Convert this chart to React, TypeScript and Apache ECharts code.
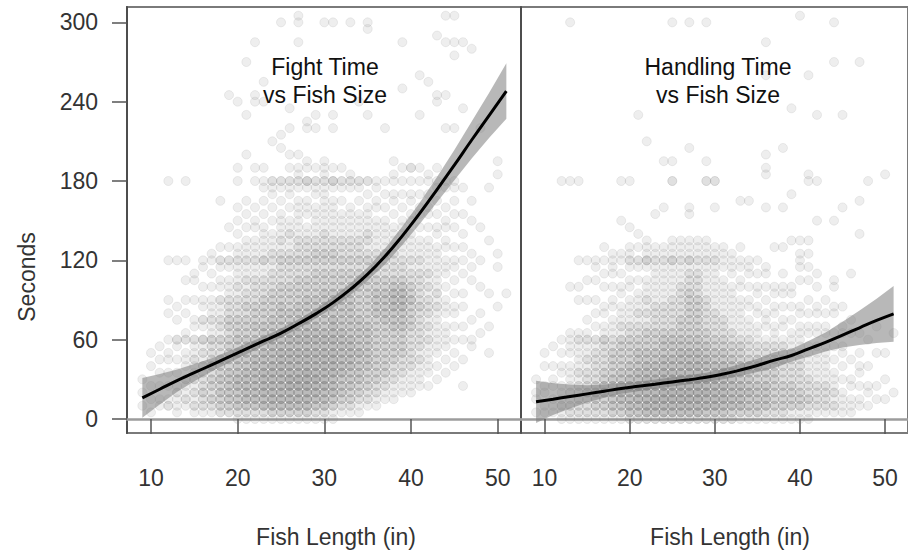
import { useEffect, useRef } from "react";
import * as echarts from "echarts";

// Axis ticks
const lengthTicks = [10, 20, 30, 40, 50];
const secondTicks = [0, 60, 120, 180, 240, 300];

// Fish lengths (in) that the count rows below belong to, one row per length
const gridLengths = [
  9, 10, 11, 12, 13, 14, 15, 16, 17, 18, 19, 20, 21, 22, 23, 24, 25, 26, 27, 28, 29, 30,
  31, 32, 33, 34, 35, 36, 37, 38, 39, 40, 41, 42, 43, 44, 45, 46, 47, 48, 49, 50, 51, 52,
];

// Number of fish at each 5 s step; each space-separated group starts a new minute
// (0-55 s, 60-115 s, 120-175 s, 180-235 s, 240-295 s, 300-305 s)
const fightCounts = [
  "001010100000",
  "010101001010",
  "001101010101",
  "002101010110 100010100000 100000000000 100000000000",
  "011121010101 200101000000 100000000000",
  "001211201110 210010100100 100000000000 100000000000",
  "012121211211 201100100110",
  "012232222121 301201101001 100000000000",
  "012323323222 311211101010 110000000000",
  "023343433322 312211201101 201000000100",
  "023444443333 323322211101 201001000000 000000000000 010000000000",
  "124445544433 433322212111 211010101000 101000000000 100000000000",
  "124555554443 433323221211 211101010100 000010000010 000000100000",
  "124555555544 434333222211 211101101000 101000000000 110000000100",
  "125566665554 444333322211 311111010101 101000000000 100100000000",
  "135666666555 544433332221 221110101011 200000100000",
  "135666666665 544444333222 321211110101 200001010000 000000000000 10",
  "135667766665 654443333222 321121101011 201010001001",
  "135667766665 654444333322 322211111101 211010000000 000000000100 11",
  "135667776665 655444433322 322211011101 301100001100",
  "124566766665 655444433332 332211111011 201000001010",
  "124556666665 654444443332 332221111111 211100000000 000000000000 10",
  "113455566665 655544443332 332211111101 301000001010 000000000000 10",
  "012344455555 554444443332 322211110101 201000000000",
  "012334445555 544444433332 322211111001 210000000000 000000000000 10",
  "011233444454 444433333332 322211110101 200000000000 100000000000",
  "001223334444 444333333322 321221111010 200000000010 000000000001 10",
  "001122333333 333344443322 221111101101 100000000000",
  "000112233333 333444443322 221111101010 100000001000",
  "000111222333 334445554322 221111010110 110100000000",
  "000011122233 334445554322 211111101010 101000000000 001000000100",
  "000011112222 223333433221 211110110110 102000000000",
  "000001111212 222223222221 211101011010 101000000010 000010000000",
  "000001011111 212122212121 111101011010 110000000000 000100000000",
  "000000101011 111112121111 111011010101 101000000000 110000000010",
  "000000010101 111011101011 101101101001 100000001000 010000000100 01",
  "000000001010 101011010101 101001010101 100000001000 000000010100 01",
  "000001000100 101001010010 101010010001 000000000001 000000000100",
  "000000000001 100100000101 010000100100 000000000000 000000001000",
  "000000000000 010010001000 100001000000 000000001000",
  "000000000010 001000010000 000100000001",
  "000000000000 000001000001 010000000000 010100000000",
  "000000000000 000000010000",
  "",
];

const handlingCounts = [
  "010110100000",
  "011011001010",
  "011101101001",
  "112111011010 100000000000 000000000000 100000000000",
  "122121111011 110000001000 000000000000 100000000000 000000000000 10",
  "122222121111 210000101000 100000000000 100000000000",
  "122232221211 210100100100 100000000000",
  "123333222221 201010100101 100000000000",
  "123344332222 311011001010 101000000000",
  "134444433332 211101101011 110000000000",
  "134555443333 312111011010 110000100000 100000000000",
  "245555544333 322111101101 211001000000 100000000000",
  "245665554443 322121110101 201010000000 000000000010",
  "256666655443 332121211101 311100000000 000000100000",
  "256766655443 332222111111 211000010000",
  "256776665544 432222111111 211000001000 000100000000",
  "256776665544 432222211111 311100000000 200100000000 000000000000 10",
  "256777665554 433322222111 211100000000",
  "256777766554 433333332221 311100011000 000001000000 000000000000 10",
  "256777666554 433333322221 211100000000",
  "246676655544 332222211111 211100000000 200100000000 000000000000 10",
  "246666655443 322221111111 211000001000 200000000000",
  "245666555443 322211111101 111000000000",
  "235555544433 221111111011 110000000000",
  "135555444333 211111101101 101000000100",
  "134454433322 211101101011 100000000100",
  "134444333322 111011011010 100000000000",
  "124444332222 101110101011 000000001000 011010000000 000010000100",
  "123333332222 111011011000 001000000000",
  "123333222222 101101011010 001000001000 000001000000",
  "113333222221 110101011000 000100000010 000000000001",
  "113332222211 111011000101 110100000000 000000000000 000000000000 01",
  "112322211111 011010100101 010100000000 110000000000 000010000000",
  "012222111111 011011001010 000000100000 100000000010",
  "012222111111 011010100000",
  "012121110101 010011001100 000000100000 000000000000 000000100000 10",
  "011110101011 011001000000 000000001000 000000000010",
  "011101100100 010100000010",
  "001101011010 010000000000 000010000100 000000000000 000000100000",
  "001011001000 100000000000 000000000000 100000000000",
  "000101000010 001000000000",
  "000100100010 000000000000 000000000000 010000000000",
  "000010000000 010000000000",
  "",
];

// Smoothed fits with their confidence bands (seconds)
const fitLength = [9, 11, 13, 15, 17, 19, 21, 23, 25, 27, 29, 31, 33, 35, 37, 39, 41, 43, 45, 47, 49, 51];
const fightFit = [16, 22.5, 29, 35, 41, 47, 53, 59, 65, 72, 79.5, 88, 98, 109.5, 123, 138.5, 155.5, 173.5, 192, 211, 229.5, 248];
const fightLower = [1, 11, 20.5, 28.5, 36, 42.5, 49, 55.5, 61.5, 68.5, 76, 84, 93.5, 104.5, 117, 131.5, 147.5, 164, 180.5, 197, 212.5, 227];
const fightUpper = [31, 34, 37.5, 41.5, 46, 51.5, 57, 62.5, 68.5, 75.5, 83, 92, 102.5, 114.5, 129, 145.5, 163.5, 183, 203.5, 225, 246.5, 269];
const handlingFit = [13, 15, 17, 19, 21, 23, 24.7, 26.3, 28, 29.7, 31.5, 34, 37, 40.5, 44.5, 48, 53, 58, 63.5, 69, 74.5, 79.5];
const handlingLower = [-3, 3, 8, 12.5, 16, 19, 21, 22.8, 24.5, 26.2, 28, 30, 32.5, 35.5, 38.5, 43.5, 47, 51, 54, 56, 57.5, 58.5];
const handlingUpper = [29, 27, 26, 25.5, 26, 27, 28.4, 29.8, 31.5, 33.2, 35, 38, 41.5, 45.5, 50.5, 53, 59, 65.5, 73.5, 82, 91, 100.5];

const panelTitles = ["Fight Time\nvs Fish Size", "Handling Time\nvs Fish Size"];
const xName = "Fish Length (in)";
const yName = "Seconds";

const FONT = '"Liberation Sans", Arial, Helvetica, sans-serif';
const POINT_ALPHA = 0.17;

function pointsFrom(counts: string[]) {
  const out: any[] = [];
  counts.forEach((row, i) => {
    const len = gridLengths[i];
    row.split(" ").forEach((group, g) => {
      for (let j = 0; j < group.length; j++) {
        const n = Number(group[j]);
        if (!n) continue;
        // n overlapping translucent dots at the same spot
        const a = 1 - Math.pow(1 - POINT_ALPHA, n);
        const c = `rgba(128,128,128,${a.toFixed(3)})`;
        out.push({ value: [len, g * 60 + j * 5], itemStyle: { color: c, borderColor: c } });
      }
    });
  });
  return out;
}

function panelSeries(idx: number, counts: string[], fit: number[], lower: number[], upper: number[]) {
  return [
    {
      type: "scatter",
      xAxisIndex: idx,
      yAxisIndex: idx,
      symbol: "circle",
      symbolSize: 9,
      itemStyle: { borderWidth: 1 },
      data: pointsFrom(counts),
      silent: true,
      progressive: 0,
      z: 2,
    },
    {
      // confidence band: upper edge forward, lower edge back
      type: "custom",
      xAxisIndex: idx,
      yAxisIndex: idx,
      data: [[fitLength[0], fit[0]]],
      silent: true,
      z: 3,
      renderItem: (_params: any, api: any) => {
        const pts: number[][] = [];
        fitLength.forEach((x, i) => pts.push(api.coord([x, upper[i]])));
        for (let i = fitLength.length - 1; i >= 0; i--) pts.push(api.coord([fitLength[i], lower[i]]));
        return {
          type: "polygon",
          shape: { points: pts },
          style: { fill: "rgba(125,125,125,0.55)" },
        };
      },
    },
    {
      type: "line",
      xAxisIndex: idx,
      yAxisIndex: idx,
      smooth: true,
      symbol: "none",
      lineStyle: { color: "#000", width: 3 },
      data: fitLength.map((x, i) => [x, fit[i]]),
      silent: true,
      z: 4,
    },
  ];
}

export default function App() {
  const ref = useRef<HTMLDivElement>(null);

  useEffect(() => {
    if (!ref.current) return;
    const chart = echarts.init(ref.current, null, { renderer: "svg" });

    const plotLeft = [127, 521];
    const plotTop = 7;
    const plotW = 394;
    const plotH = 426;

    const xAxis = [0, 1].map((i) => ({
      type: "value",
      gridIndex: i,
      min: 7.23,
      max: 52.69,
      splitLine: { show: false },
      axisLine: { show: true, lineStyle: { color: "#9c9c9c", width: 2.5 } },
      axisTick: {
        show: true,
        customValues: lengthTicks,
        length: 15,
        lineStyle: { color: "#555", width: 1.5 },
      },
      axisLabel: {
        show: true,
        customValues: lengthTicks,
        margin: 33,
        fontSize: 23,
        lineHeight: 23,
        fontFamily: FONT,
        color: "#333",
      },
    }));

    const yAxis = [0, 1].map((i) => ({
      type: "value",
      gridIndex: i,
      min: -10.6,
      max: 311.6,
      splitLine: { show: false },
      axisLine: { show: true, lineStyle: { color: "#4d4d4d", width: 2 } },
      axisTick: {
        show: i === 0,
        customValues: secondTicks,
        length: 15,
        lineStyle: { color: "#555", width: 1.5 },
      },
      axisLabel: {
        show: i === 0,
        customValues: secondTicks,
        margin: 29,
        fontSize: 23,
        fontFamily: FONT,
        color: "#333",
      },
    }));

    const textStyle = (fill: string) => ({
      font: `23px ${FONT}`,
      fill,
      textAlign: "center",
      textVerticalAlign: "middle",
      align: "center",
      verticalAlign: "middle",
    });

    chart.setOption({
      animation: false,
      backgroundColor: "#fff",
      grid: plotLeft.map((left) => ({
        left,
        top: plotTop,
        width: plotW,
        height: plotH,
        show: true,
        borderColor: "#7a7a7a",
        borderWidth: 2,
        backgroundColor: "transparent",
        containLabel: false,
      })),
      xAxis,
      yAxis,
      series: [
        ...panelSeries(0, fightCounts, fightFit, fightLower, fightUpper),
        ...panelSeries(1, handlingCounts, handlingFit, handlingLower, handlingUpper),
      ],
      graphic: [
        { type: "text", x: 325, y: 81, z: 10, style: { ...textStyle("#111"), text: panelTitles[0], lineHeight: 28 } },
        { type: "text", x: 718, y: 81, z: 10, style: { ...textStyle("#111"), text: panelTitles[1], lineHeight: 28 } },
        { type: "text", x: 336, y: 537, z: 10, style: { ...textStyle("#333"), text: xName } },
        { type: "text", x: 730, y: 537, z: 10, style: { ...textStyle("#333"), text: xName } },
        { type: "text", x: 27, y: 277, rotation: Math.PI / 2, z: 10, style: { ...textStyle("#333"), text: yName } },
      ],
    });

    return () => chart.dispose();
  }, []);

  return (
    <div
      ref={ref}
      style={{ position: "fixed", left: 0, top: 0, width: 908, height: 550, background: "#fff" }}
    />
  );
}
